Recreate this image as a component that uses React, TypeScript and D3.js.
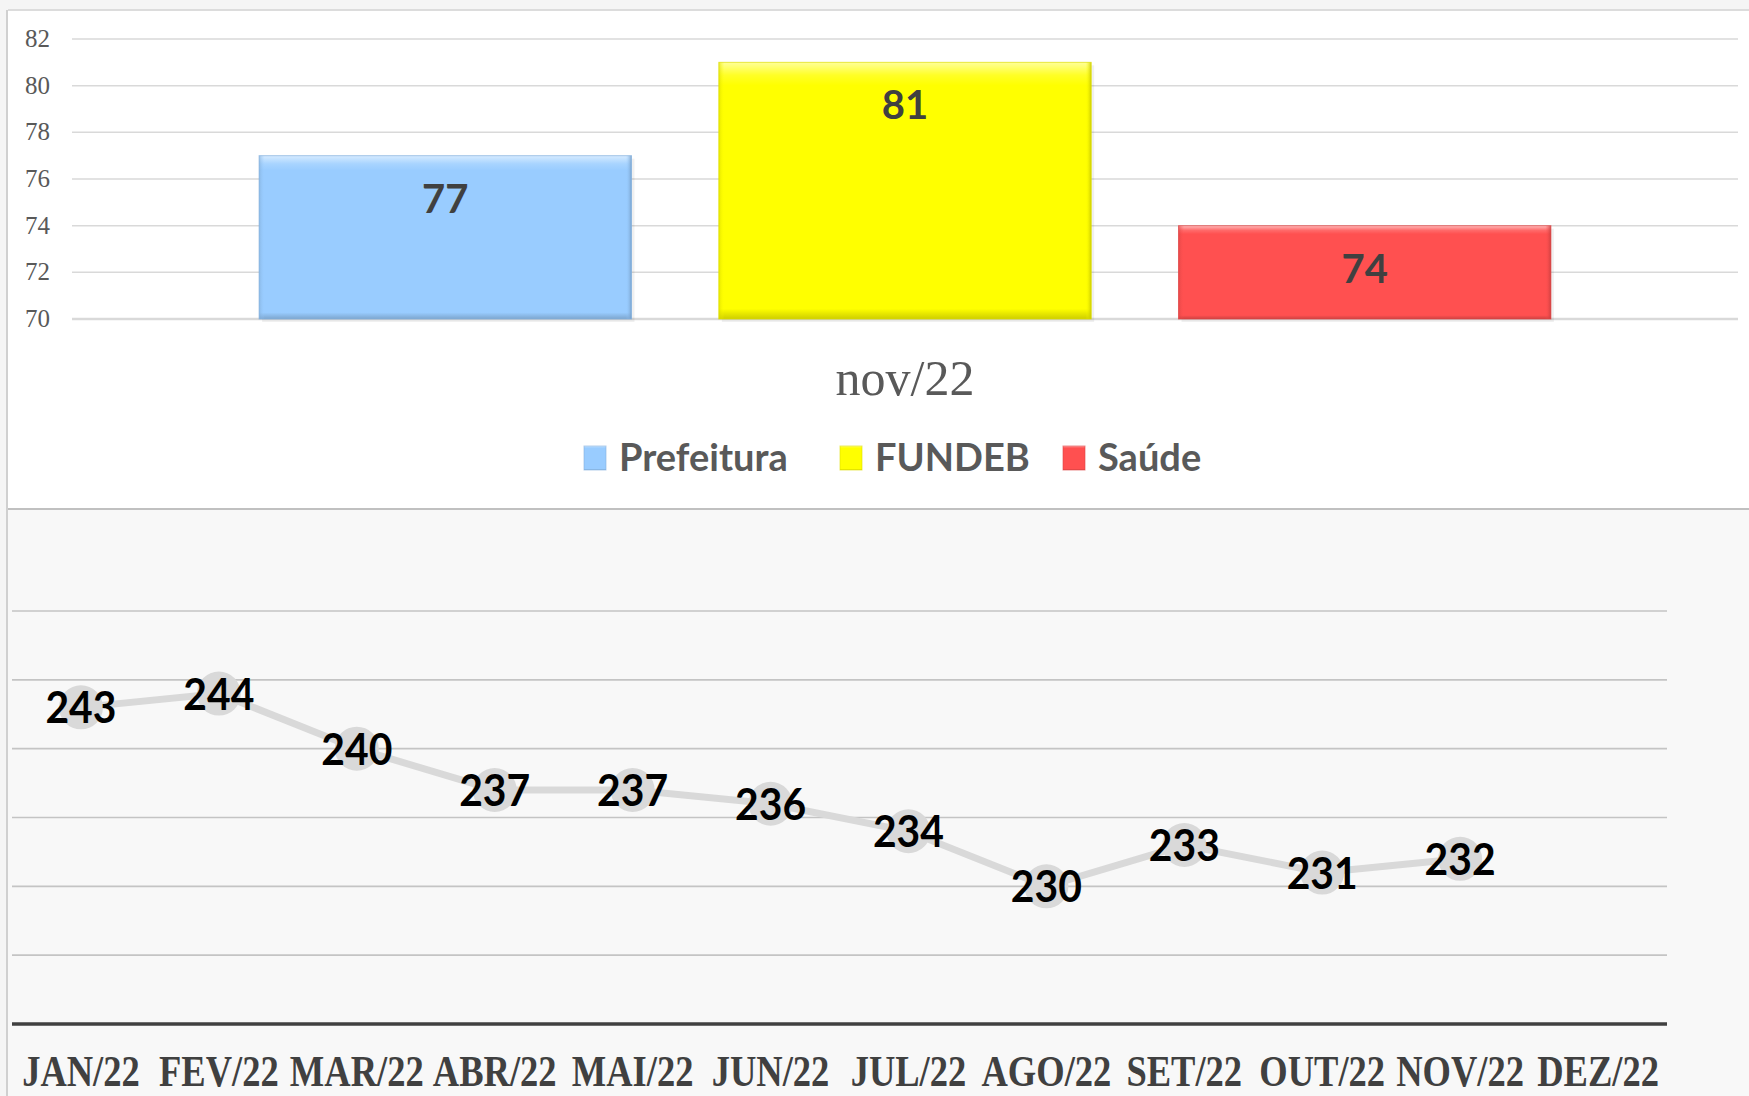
import * as d3 from "d3";

// ── data ────────────────────────────────────────────────────────────────
const barCategory = "nov/22";
const barSeries = ["Prefeitura", "FUNDEB", "Saúde"];
const barValues = [77, 81, 74];
const barColors = ["#99ccff", "#ffff00", "#ff5050"];
const barTicks = [70, 72, 74, 76, 78, 80, 82];

const months = [
  "JAN/22", "FEV/22", "MAR/22", "ABR/22", "MAI/22", "JUN/22",
  "JUL/22", "AGO/22", "SET/22", "OUT/22", "NOV/22", "DEZ/22",
];
const lineValues = [243, 244, 240, 237, 237, 236, 234, 230, 233, 231, 232];
const lineTicks = [225, 230, 235, 240, 245, 250];

// ── layout ──────────────────────────────────────────────────────────────
const W = 1749;
const H = 1096;
const SEP_Y = 509;

// top (bars)
const yBar = d3.scaleLinear().domain([70, 82]).range([319, 39]);
const x0 = d3.scaleBand().domain([barCategory]).range([72, 1738]);
const x1 = d3
  .scaleBand()
  .domain(barSeries)
  .range([x0(barCategory)!, x0(barCategory)! + x0.bandwidth()])
  .paddingInner(0.19)
  .paddingOuter(0.407);

// bottom (line)
const xLine = d3.scaleBand().domain(months).range([12, 1667]);
const yLine = d3.scaleLinear().domain([220, 250]).range([1024, 611]);

const shade = (c: string, k: number) => {
  const col = d3.color(c)!;
  return k > 0 ? col.brighter(k).formatHex() : col.darker(-k).formatHex();
};

const lighten = (c: string, t: number) => d3.interpolateRgb(c, "#ffffff")(t);

export default function App() {
  const linePath = d3
    .line<number>()
    .x((_, i) => xLine(months[i])! + xLine.bandwidth() / 2)
    .y((d) => yLine(d))(lineValues);

  const legendX = [584, 840, 1063];

  return (
    <svg
      width={W}
      height={H}
      style={{ position: "absolute", left: 0, top: 0, display: "block" }}
    >
      <defs>
        {barColors.map((c, i) => (
          <linearGradient key={i} id={`bev${i}`} x1="0" y1="0" x2="0" y2="1">
            <stop offset="0" stopColor={lighten(c, 0.6)} />
            <stop offset="0.05" stopColor={lighten(c, 0.15)} />
            <stop offset="0.09" stopColor={c} />
            <stop offset="0.96" stopColor={c} />
            <stop offset="1" stopColor={shade(c, -0.6)} />
          </linearGradient>
        ))}
        {barColors.map((c, i) => (
          <linearGradient key={"s" + i} id={`side${i}`} x1="0" y1="0" x2="1" y2="0">
            <stop offset="0" stopColor={shade(c, -0.5)} stopOpacity={0.6} />
            <stop offset="0.015" stopColor={c} stopOpacity={0} />
            <stop offset="0.985" stopColor={c} stopOpacity={0} />
            <stop offset="1" stopColor={shade(c, -0.8)} stopOpacity={0.8} />
          </linearGradient>
        ))}
      </defs>

      {/* page background */}
      <rect x={0} y={0} width={W} height={H} fill="#f5f5f5" />
      {/* top panel */}
      <rect x={8} y={10} width={W - 8} height={SEP_Y - 10} fill="#ffffff" />
      <line x1={8} x2={W} y1={10} y2={10} stroke="#dcdcdc" strokeWidth={2} />
      {/* bottom panel */}
      <rect x={8} y={SEP_Y} width={W - 8} height={H - SEP_Y} fill="#f8f8f8" />
      <line x1={8} x2={W} y1={SEP_Y} y2={SEP_Y} stroke="#c0c0c0" strokeWidth={2} />
      <line x1={7} x2={7} y1={10} y2={H} stroke="#d0d0d0" strokeWidth={2} />

      {/* ── bar chart ── */}
      {barTicks.map((t) => (
        <g key={t}>
          <line
            x1={72} x2={1738}
            y1={yBar(t)} y2={yBar(t)}
            stroke="#d9d9d9" strokeWidth={t === 70 ? 2.5 : 1.5}
          />
          <text
            x={50} y={yBar(t) + 8}
            textAnchor="end" fontSize={25}
            fontFamily="'Liberation Serif', serif" fill="#595959"
          >
            {t}
          </text>
        </g>
      ))}

      {barSeries.map((s, i) => {
        const x = x1(s)!;
        const w = x1.bandwidth();
        const y = yBar(barValues[i]);
        const h = yBar(70) - y;
        return (
          <g key={s}>
            <rect x={x + 3} y={y + 3} width={w} height={h} fill="#000" opacity={0.06} />
            <rect x={x} y={y} width={w} height={h} fill={`url(#bev${i})`} />
            <rect x={x} y={y} width={w} height={h} fill={`url(#side${i})`} />
            <rect
              x={x} y={y} width={w} height={h}
              fill="none" stroke={shade(barColors[i], -0.4)} strokeWidth={1}
              strokeOpacity={0.7}
            />
            <text
              x={x + w / 2} y={y + 57}
              textAnchor="middle" fontSize={40} fontWeight={700}
              fontFamily="Lato, sans-serif" fill="#404040"
            >
              {barValues[i]}
            </text>
          </g>
        );
      })}

      <text
        x={x0(barCategory)! + x0.bandwidth() / 2} y={395}
        textAnchor="middle" fontSize={50}
        fontFamily="'Liberation Serif', serif" fill="#595959"
      >
        {barCategory}
      </text>

      {/* legend */}
      {barSeries.map((s, i) => (
        <g key={s}>
          <rect x={legendX[i]} y={446} width={22} height={24} fill={`url(#bev${i})`} />
          <rect
            x={legendX[i]} y={446} width={22} height={24}
            fill="none" stroke={shade(barColors[i], -0.4)} strokeWidth={1} strokeOpacity={0.6}
          />
          <text
            x={legendX[i] + 35} y={471}
            fontSize={38} fontWeight={700}
            fontFamily="Lato, sans-serif" fill="#595959"
          >
            {s}
          </text>
        </g>
      ))}

      {/* ── line chart ── */}
      {lineTicks.map((t) => (
        <line
          key={t}
          x1={12} x2={1667}
          y1={yLine(t)} y2={yLine(t)}
          stroke="#c4c4c4" strokeWidth={1.6}
        />
      ))}
      <line
        x1={12} x2={1667}
        y1={yLine(220)} y2={yLine(220)}
        stroke="#404040" strokeWidth={3.5}
      />

      <path d={linePath ?? ""} fill="none" stroke="#d9d9d9" strokeWidth={7} />

      {lineValues.map((v, i) => {
        const cx = xLine(months[i])! + xLine.bandwidth() / 2;
        return (
          <circle key={i} cx={cx} cy={yLine(v)} r={22} fill="#d9d9d9" />
        );
      })}

      {lineValues.map((v, i) => {
        const cx = xLine(months[i])! + xLine.bandwidth() / 2;
        return (
          <text
            key={i}
            transform={`translate(${cx},${yLine(v) + 16}) scale(0.95,1)`}
            textAnchor="middle" fontSize={43} fontWeight={700}
            fontFamily="Lato, sans-serif" fill="#000000"
          >
            {v}
          </text>
        );
      })}

      {months.map((m) => {
        const cx = xLine(m)! + xLine.bandwidth() / 2;
        return (
          <text
            key={m}
            transform={`translate(${cx},1086) scale(0.83,1)`}
            textAnchor="middle" fontSize={44} fontWeight={700}
            fontFamily="'Liberation Serif', serif" fill="#404040"
          >
            {m}
          </text>
        );
      })}
    </svg>
  );
}
